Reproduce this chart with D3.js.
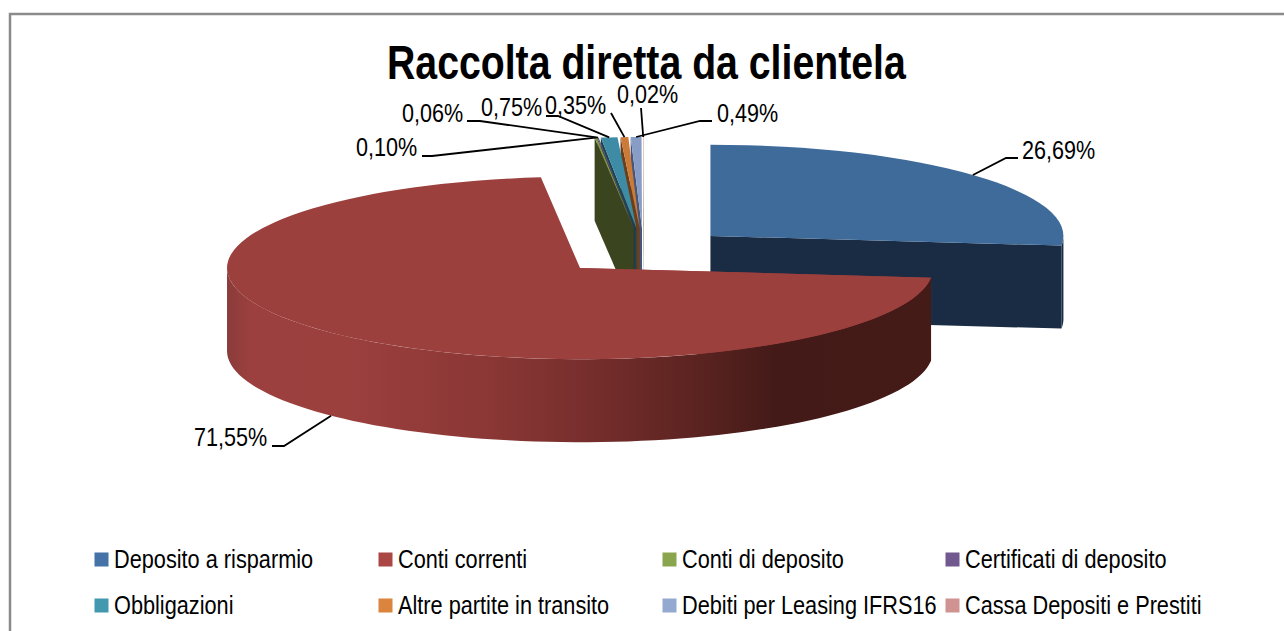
<!DOCTYPE html>
<html>
<head>
<meta charset="utf-8">
<title>Raccolta diretta da clientela</title>
<script src="https://cdn.jsdelivr.net/npm/d3@7"></script>
<style>
    html, body { margin: 0; padding: 0; background: #fff; }
    svg { display: block; }
    text { font-family: "Liberation Sans", Arial, sans-serif; fill: #000; }
</style>
</head>
<body>
<svg></svg>
<script>
const categories = ["Deposito a risparmio", "Conti correnti", "Conti di deposito", "Certificati di deposito",
    "Obbligazioni", "Altre partite in transito", "Debiti per Leasing IFRS16", "Cassa Depositi e Prestiti"];
const values = [26.69, 71.55, 0.10, 0.06, 0.75, 0.35, 0.49, 0.02];
const legendColors = ["#4573a7", "#aa4644", "#89a54e", "#71588f", "#4298af", "#db843d", "#93a9d0", "#d09392"];
const topColors = ["#3f6b9b", "#9c403e", "#7f9a45", "#685285", "#3d8ba4", "#cc7a37", "#879dc5", "#c58a89"];
const sideColors = ["#1a2c44", "#9c403e", "#3a4520", "#2f2440", "#1c4350", "#6b3f1a", "#46557a", "#6e4a49"];

const width = 1284,
    height = 631;

const svg = d3.select("svg")
    .attr("width", width)
    .attr("height", height);

// pie geometry, worked out from the picture
const rx = 353,
    tilt = 0.2585,
    depth = 83,
    explode = 90,
    cx = 643.5,
    cy = 251.5;

const pie = d3.pie().sort(null).value(d => d);
const slices = pie(values).map((d, i) => {
    const mid = (d.startAngle + d.endAngle) / 2;
    return {
        i: i,
        a0: d.startAngle,
        a1: d.endAngle,
        mid: mid,
        ax: cx + explode * Math.sin(mid),
        ay: cy - explode * tilt * Math.cos(mid)
    };
});

const rimX = (s, a) => s.ax + rx * Math.sin(a);
const rimY = (s, a) => s.ay - rx * tilt * Math.cos(a);
const arcTop = d3.arc().innerRadius(0).outerRadius(rx);
const line = d3.line();

// frame
svg.append("path")
    .attr("d", `M10,${height}V14H${width}`)
    .attr("fill", "none")
    .attr("stroke", "#8a8a8a")
    .attr("stroke-width", 2.5);

// shading of the long red wall
const wallStops = [
    [228, "#8a3c3b"], [250, "#9b403e"], [345, "#9c403e"], [490, "#8a3735"],
    [600, "#742d2b"], [700, "#5a2320"], [775, "#441a18"], [933, "#451b18"]
];
const wallX = d3.scaleLinear().domain([228, 933]).range([0, 1]);
const grad = svg.append("defs").append("linearGradient")
    .attr("id", "redWall")
    .attr("gradientUnits", "userSpaceOnUse")
    .attr("x1", 228).attr("x2", 933).attr("y1", 0).attr("y2", 0);
wallStops.forEach(d => {
    grad.append("stop").attr("offset", wallX(d[0])).attr("stop-color", d[1]);
});

// outer wall of a slice, only the part that faces the viewer
function wallPath(s) {
    const from = Math.max(s.a0, Math.PI / 2),
        to = Math.min(s.a1, Math.PI * 1.5);
    if (from >= to) return null;
    const angles = d3.range(0, 81).map(k => from + (to - from) * k / 80);
    const top = angles.map(a => [rimX(s, a), rimY(s, a)]);
    const bottom = angles.slice().reverse().map(a => [rimX(s, a), rimY(s, a) + depth]);
    return line(top.concat(bottom)) + "Z";
}

// radial cut face at angle a
function facePath(s, a) {
    return line([
        [rimX(s, a), rimY(s, a)],
        [s.ax, s.ay],
        [s.ax, s.ay + depth],
        [rimX(s, a), rimY(s, a) + depth]
    ]) + "Z";
}

function drawSlice(s, faceAngle) {
    const g = svg.append("g");
    g.append("path")
        .attr("d", facePath(s, faceAngle))
        .attr("fill", sideColors[s.i]);
    const wall = wallPath(s);
    if (wall) {
        g.append("path")
            .attr("d", wall)
            .attr("fill", s.i === 1 ? "url(#redWall)" : sideColors[s.i]);
    }
    g.append("path")
        .attr("d", arcTop({ startAngle: s.a0, endAngle: s.a1 }))
        .attr("transform", `translate(${s.ax},${s.ay}) scale(1,${tilt})`)
        .attr("fill", topColors[s.i]);
}

// back to front: the small slices from right to left, then blue, red last
[7, 6, 5, 4, 3, 2].forEach(i => drawSlice(slices[i], slices[i].a0));
drawSlice(slices[0], slices[0].a1);
drawSlice(slices[1], slices[1].a0);

// data labels
const labelText = values.map(d => d.toFixed(2).replace(".", ",") + "%");
const labelX = [1022, 194, 356, 402, 481, 545, 717, 617];
const labelY = [159, 446, 156, 122, 116, 114, 122, 103];
const elbowA = [[1018, 158], [272, 446], [422, 156], [467, 121], [546, 116], [611, 113], [712, 121], [641, 108]];
const elbowB = [[1006, 158], [284, 446], [432, 156], [480, 121], [558, 116], null, [700, 121], null];
const labelScale = 0.83;

slices.forEach((s, j) => {
    const front = Math.cos(s.mid) < 0;
    const tip = [rimX(s, s.mid), rimY(s, s.mid) + (front ? depth : 0)];
    const pts = [elbowA[j]];
    if (elbowB[j]) pts.push(elbowB[j]);
    pts.push(tip);
    svg.append("path")
        .attr("d", line(pts))
        .attr("fill", "none")
        .attr("stroke", "#000")
        .attr("stroke-width", 1.8);
    svg.append("text")
        .attr("transform", `translate(${labelX[j]},${labelY[j]}) scale(${labelScale},1)`)
        .attr("font-size", 26)
        .text(labelText[j]);
});

// title
svg.append("text")
    .attr("transform", "translate(387,79) scale(0.826,1)")
    .attr("font-size", 47.5)
    .attr("font-weight", "bold")
    .text("Raccolta diretta da clientela");

// legend
const legendX = [94.5, 378.5, 662.5, 945.5];
const legendY = [552.5, 598.5];
const legend = svg.append("g")
    .selectAll("g")
    .data(categories)
    .join("g")
    .attr("transform", (d, i) => `translate(${legendX[i % 4]},${legendY[Math.floor(i / 4)]})`);
legend.append("rect")
    .attr("width", 14)
    .attr("height", 14)
    .attr("fill", (d, i) => legendColors[i]);
legend.append("text")
    .attr("transform", "translate(19.5,15) scale(0.869,1)")
    .attr("font-size", 25)
    .text(d => d);
</script>
</body>
</html>
